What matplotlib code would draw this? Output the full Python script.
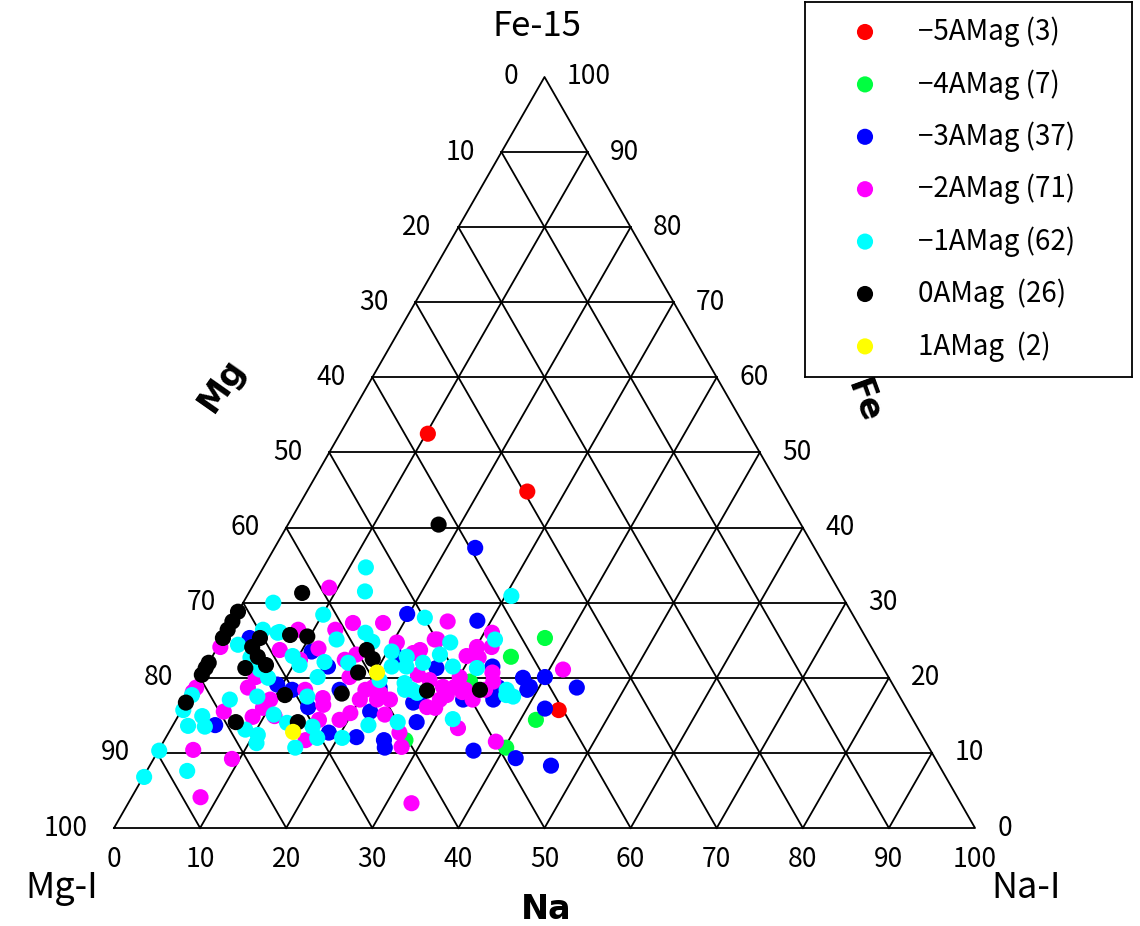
import numpy as np
import matplotlib
matplotlib.use("Agg")
import matplotlib.pyplot as plt

plt.rcParams['font.family'] = ['Noto Sans CJK JP', 'DejaVu Sans']

# ternary data: Na (%) and Fe (%) per group, Mg = 100 - Na - Fe
na_m5 = [10.2, 25.6, 43.8]
fe_m5 = [52.5, 44.8, 15.7]

na_m4 = [37.4, 34.7, 41.8, 40.2, 28.0, 31.1, 31.6]
fe_m4 = [25.3, 22.8, 14.4, 10.7, 11.7, 18.7, 19.5]

na_m3 = [23.3, 19.8, 28.4, 26.8, 33.2, 37.5, 38.9, 40.0, 44.4, 11.2,
         14.1, 21.5, 3.1, 9.4, 4.9, 14.5, 18.6, 22.1, 22.0, 21.9,
         25.5, 26.1, 28.1, 26.4, 42.1, 36.6, 42.0, 46.6, 35.5, 32.0,
         38.8, 22.2, 17.0, 26.7, 11.5, 35.3, 20.7]
fe_m3 = [37.3, 28.5, 27.6, 21.3, 21.5, 20.0, 18.8, 20.1, 18.7, 23.5,
         21.5, 18.7, 25.3, 19.1, 13.7, 16.1, 12.7, 12.1, 15.5, 18.0,
         11.7, 10.7, 14.1, 16.7, 15.9, 10.3, 9.3, 8.3, 17.1, 17.1,
         18.4, 22.4, 18.4, 17.7, 18.4, 18.7, 23.5]

na_m2 = [0.3, 6.4, 0.2, 9.0, 14.1, 17.6, 8.2, 11.8, 16.6, 20.5,
         24.7, 23.1, 17.3, 20.7, 25.1, 15.6, 25.0, 25.0, 30.1, 30.9,
         31.8, 29.5, 31.0, 41.6, 30.1, 33.6, 28.8, 30.2, 34.3, 0.1,
         5.0, 8.7, 9.3, 4.0, 9.1, 8.0, 16.1, 16.6, 19.8, 16.4,
         22.0, 23.9, 26.8, 28.0, 28.3, 32.9, 21.9, 29.3, 33.3, 38.6,
         29.8, 33.1, 31.4, 9.6, 10.4, 15.6, 23.5, 25.2, 29.3, 31.6,
         33.9, 23.7, 20.0, 13.0, 6.2, 12.5, 11.2, 19.0, 7.4, 20.0,
         26.8]
fe_m2 = [24.1, 20.1, 18.7, 32.0, 27.3, 27.3, 26.4, 23.9, 23.1, 24.7,
         25.1, 23.3, 20.1, 18.7, 20.4, 17.3, 27.5, 25.1, 24.1, 26.0,
         24.1, 22.9, 22.7, 21.1, 20.1, 20.7, 18.8, 18.8, 19.5, 18.1,
         15.5, 14.8, 16.0, 10.4, 9.2, 4.1, 16.4, 14.4, 15.3, 11.7,
         17.1, 15.1, 12.7, 10.8, 16.1, 3.3, 18.0, 16.0, 13.3, 11.5,
         17.7, 17.1, 18.1, 17.1, 22.4, 22.4, 17.1, 18.4, 17.1, 18.4,
         18.4, 23.7, 18.4, 18.4, 18.7, 26.4, 14.9, 14.4, 23.7, 17.1,
         19.7]

na_m1 = [3.5, 2.2, 4.1, 6.0, 4.5, 6.4, 7.9, 0.2, 11.9, 13.4,
         10.1, 22.1, 16.2, 17.6, 9.3, 13.4, 16.2, 20.5, 21.5, 22.6,
         23.2, 13.6, 24.9, 24.1, 25.4, 6.2, 30.7, 26.7, 31.7, 28.6,
         31.5, 36.4, 0.2, 2.8, 1.8, 3.8, 0.1, 4.7, 0.1, 7.9,
         11.0, 8.7, 10.5, 10.9, 13.1, 13.7, 16.3, 17.6, 15.7, 20.5,
         22.7, 25.9, 24.6, 26.2, 32.1, 36.7, 37.6, 13.3, 10.7, 26.3,
         21.0, 4.9]
fe_m1 = [30.0, 24.4, 26.4, 26.0, 22.7, 21.1, 20.0, 17.7, 34.7, 31.5,
         28.4, 28.0, 26.0, 24.8, 22.9, 22.1, 22.0, 23.5, 21.5, 22.8,
         21.5, 20.1, 22.0, 19.3, 18.4, 26.1, 30.9, 24.7, 25.1, 21.5,
         21.3, 18.4, 15.7, 14.9, 13.6, 13.5, 10.3, 7.6, 6.8, 17.5,
         15.1, 13.1, 12.4, 11.3, 14.0, 17.5, 13.5, 12.0, 10.7, 12.0,
         13.7, 14.1, 18.4, 18.0, 14.5, 17.7, 17.5, 25.1, 21.7, 23.1,
         19.7, 17.1]

na_0 = [17.5, 6.2, 0.0, 0.0, 0.0, 0.0, 0.0, 4.3, 4.0, 5.3,
        6.8, 4.6, 11.0, 7.6, 9.7, 17.5, 18.8, 18.0, 17.5, 27.2,
        0.0, 7.1, 14.3, 33.3, 0.0, 0.0]
fe_0 = [40.4, 31.3, 28.8, 26.4, 25.3, 22.0, 20.4, 25.3, 24.1, 22.8,
        21.7, 21.3, 17.7, 25.7, 25.5, 23.7, 22.5, 20.7, 17.9, 18.3,
        16.7, 14.1, 14.1, 18.4, 27.5, 21.3]

na_p1 = [20.2, 14.4]
fe_p1 = [20.7, 12.8]

groups = [
    ("\u22125AMag (3)", "#ff0000", na_m5, fe_m5),
    ("\u22124AMag (7)", "#00ff40", na_m4, fe_m4),
    ("\u22123AMag (37)", "#0000ff", na_m3, fe_m3),
    ("\u22122AMag (71)", "#ff00ff", na_m2, fe_m2),
    ("\u22121AMag (62)", "#00ffff", na_m1, fe_m1),
    ("0AMag  (26)", "#000000", na_0, fe_0),
    ("1AMag  (2)", "#ffff00", na_p1, fe_p1),
]

ticks = list(range(0, 101, 10))
H = np.sqrt(3) / 2


def tern(na, fe):
    na = np.asarray(na, dtype=float)
    fe = np.asarray(fe, dtype=float)
    return na + fe / 2, fe * H


fig = plt.figure(figsize=(11.4, 9.26), dpi=100)
ax = fig.add_axes([0, 0, 1, 1])
ax.set_xlim(-13.24, 119.16)
ax.set_ylim(-11.30, 95.48)
ax.axis('off')

lw = 1.3
# outline
ox, oy = tern([0, 100, 0, 0], [0, 0, 100, 0])
ax.plot(ox, oy, color='black', lw=lw)
# grid lines
for v in ticks[1:-1]:
    # constant Fe (horizontal)
    x, y = tern([0, 100 - v], [v, v])
    ax.plot(x, y, color='black', lw=lw)
    # constant Na
    x, y = tern([v, v], [0, 100 - v])
    ax.plot(x, y, color='black', lw=lw)
    # constant Mg
    x, y = tern([100 - v, 0], [0, 100 - v])
    ax.plot(x, y, color='black', lw=lw)

fs = 19
for v in ticks:
    # left side labels (Mg)
    x, y = tern(0, v)
    ax.text(x - 3.1, y, str(100 - v), ha='right', va='center', fontsize=fs)
    # right side labels (Fe)
    x, y = tern(100 - v, v)
    ax.text(x + 2.6, y, str(v), ha='left', va='center', fontsize=fs)
    # bottom labels (Na)
    x, y = tern(v, 0)
    ax.text(x, -3.6, str(v), ha='center', va='center', fontsize=fs)

for label, color, na, fe in groups:
    x, y = tern(na, fe)
    ax.scatter(x, y, s=135, color=color, edgecolors='none', zorder=3)

# titles / axis names
ax.text(49.1, 92.4, "Fe-15", ha='center', va='center', fontsize=25)
ax.text(-6.1, -6.9, "Mg-I", ha='center', va='center', fontsize=26)
ax.text(105.9, -6.9, "Na-I", ha='center', va='center', fontsize=26)
ax.text(50.2, -9.4, "Na", ha='center', va='center', fontsize=24,
        fontweight='bold', family='DejaVu Sans')
ax.text(12.5, 51.1, "Mg", ha='center', va='center', fontsize=24,
        fontweight='bold', family='DejaVu Sans', rotation=55)
ax.text(87.0, 49.2, "Fe", ha='center', va='center', fontsize=24,
        fontweight='bold', family='DejaVu Sans', rotation=-70)

# legend box
lax = fig.add_axes([805 / 1140, 1 - 377 / 926, 327 / 1140, 375 / 926])
lax.set_xlim(0, 327)
lax.set_ylim(375, 0)
lax.set_xticks([])
lax.set_yticks([])
for sp in lax.spines.values():
    sp.set_color('black')
    sp.set_linewidth(1.3)
for i, (label, color, na, fe) in enumerate(groups):
    yy = 30 + i * 52.4
    lax.scatter([60], [yy], s=135, color=color, edgecolors='none')
    lax.text(113, yy, label, ha='left', va='center', fontsize=20)

fig.savefig("out.png", dpi=100)
